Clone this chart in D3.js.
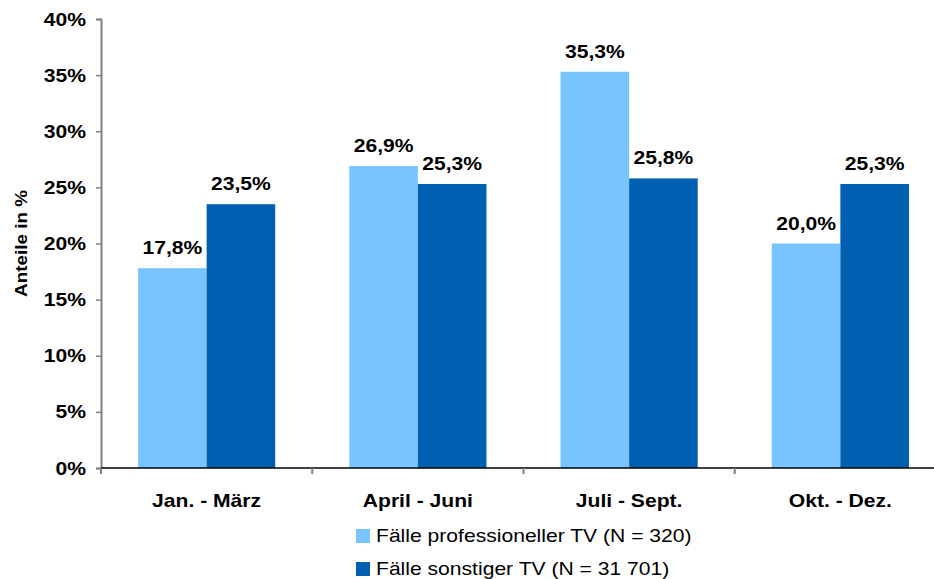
<!DOCTYPE html>
<html>
<head>
<meta charset="utf-8">
<script src="https://cdn.jsdelivr.net/npm/d3@7"></script>
<style>
  body { margin: 0; background: #fff; }
  text { font-family: "Liberation Sans", Arial, sans-serif; }
</style>
</head>
<body>
<div id="chart"></div>
<script>
const width = 934, height = 579, margin = {top: 19, right: -12, bottom: 111, left: 101};

const categories = ["Jan. - März", "April - Juni", "Juli - Sept.", "Okt. - Dez."];
const series = ["Fälle professioneller TV (N = 320)", "Fälle sonstiger TV (N = 31 701)"];
const profValues = [17.8, 26.9, 35.3, 20.0];
const otherValues = [23.5, 25.3, 25.8, 25.3];
const yTicks = [0, 5, 10, 15, 20, 25, 30, 35, 40];
const colors = ["#77C4FF", "#005FB0"];

const data = categories.map((c, i) => ({cat: c, vals: [profValues[i], otherValues[i]]}));

const svg = d3.select("#chart")
  .append("svg")
  .attr("width", width)
  .attr("height", height);

const x0 = d3.scaleBand()
    .domain(categories)
    .range([margin.left, width - margin.right])
    .padding(0);

const x1 = d3.scaleBand()
    .domain([0, 1])
    .range([0, x0.bandwidth()])
    .paddingInner(0)
    .paddingOuter(0.54);

const y = d3.scaleLinear()
    .domain([0, 40])
    .range([height - margin.bottom, margin.top]);

const fmt = v => v.toFixed(1).replace(".", ",") + "%";

// bars
const groups = svg.append("g").selectAll("g")
  .data(data)
  .join("g")
  .attr("transform", d => `translate(${x0(d.cat)},0)`);

groups.selectAll("rect")
  .data(d => d.vals)
  .join("rect")
  .attr("x", (d, i) => x1(i))
  .attr("width", x1.bandwidth())
  .attr("y", d => y(d))
  .attr("height", d => y(0) - y(d))
  .attr("fill", (d, i) => colors[i]);

groups.selectAll("text")
  .data(d => d.vals)
  .join("text")
  .attr("x", (d, i) => x1(i) + x1.bandwidth() / 2)
  .attr("y", d => y(d) - 14)
  .attr("text-anchor", "middle")
  .attr("font-size", 19)
  .attr("font-weight", "bold")
  .text(fmt);

// y axis
const yAxis = svg.append("g")
  .attr("transform", `translate(${margin.left},0)`)
  .call(d3.axisLeft(y).tickValues(yTicks).tickFormat(d => d + "%").tickSizeOuter(0).tickSize(5).tickPadding(10));
yAxis.select(".domain").attr("stroke", "#808080").attr("stroke-width", 2);
yAxis.selectAll(".tick line").attr("stroke", "#808080").attr("stroke-width", 1.5);
yAxis.selectAll(".tick text")
  .attr("font-size", 19)
  .attr("font-weight", "bold")
  .attr("font-family", "Liberation Sans, Arial, sans-serif")
  .attr("fill", "#000");

// x axis
const xAxis = svg.append("g")
  .attr("transform", `translate(0,${y(0)})`);
xAxis.append("line")
  .attr("x1", margin.left).attr("x2", width)
  .attr("stroke", "#000").attr("stroke-width", 1.5);
xAxis.selectAll("line.tk")
  .data(categories)
  .join("line")
  .attr("class", "tk")
  .attr("x1", d => x0(d)).attr("x2", d => x0(d))
  .attr("y1", 0).attr("y2", 6)
  .attr("stroke", "#808080").attr("stroke-width", 2);
xAxis.selectAll("text")
  .data(categories)
  .join("text")
  .attr("x", d => x0(d) + x0.bandwidth() / 2)
  .attr("y", 39)
  .attr("text-anchor", "middle")
  .attr("font-size", 19)
  .attr("font-weight", "bold")
  .text(d => d);

// y title
svg.append("text")
  .attr("transform", `translate(27,${(y(0) + y(40)) / 2}) rotate(-90)`)
  .attr("text-anchor", "middle")
  .attr("font-size", 17)
  .attr("font-weight", "bold")
  .text("Anteile in %");

// legend
const legend = svg.append("g").attr("transform", "translate(356,529)");
const items = legend.selectAll("g")
  .data(series)
  .join("g")
  .attr("transform", (d, i) => `translate(0,${i * 33})`);
items.append("rect")
  .attr("width", 14).attr("height", 14)
  .attr("fill", (d, i) => colors[i]);
items.append("text")
  .attr("x", 20)
  .attr("y", 13)
  .attr("font-size", 19)
  .text(d => d);

// the reference text is a bit wider than the font: stretch it
svg.selectAll("text").each(function() {
  const w = this.getComputedTextLength();
  d3.select(this).attr("textLength", w * 1.11).attr("lengthAdjust", "spacingAndGlyphs");
});
</script>
</body>
</html>
